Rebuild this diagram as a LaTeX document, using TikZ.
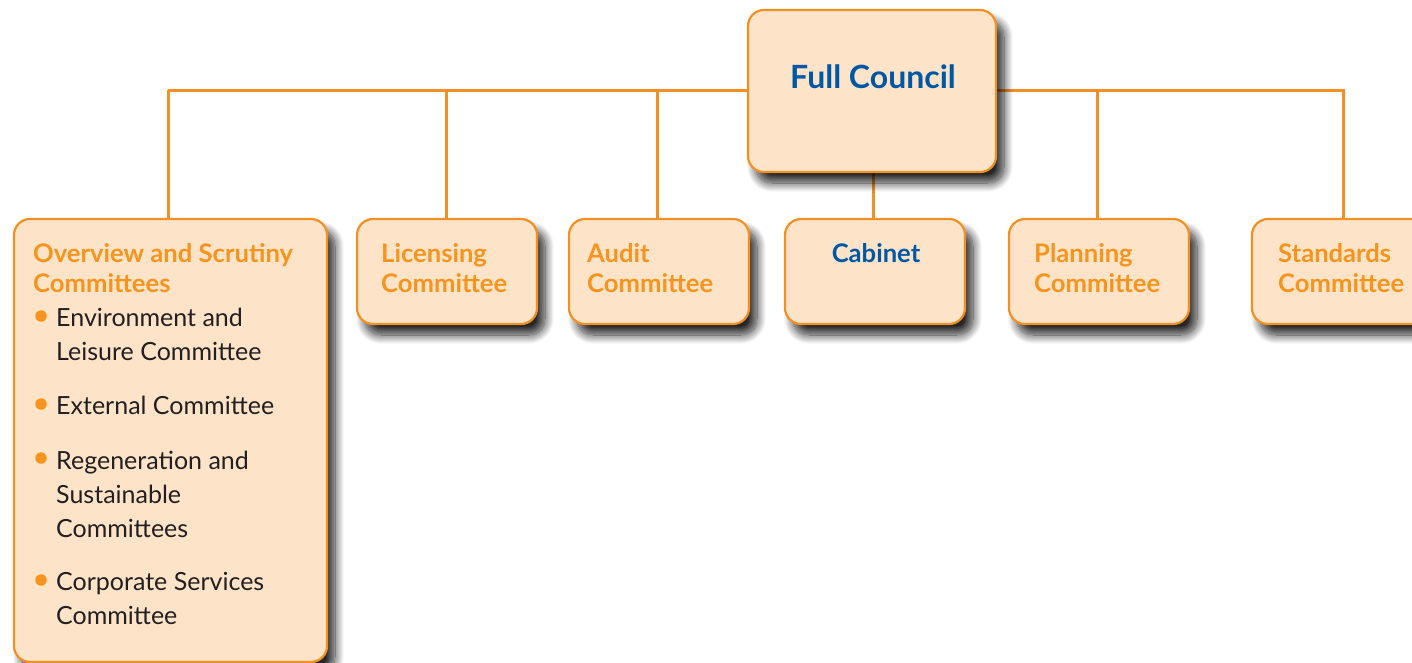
\documentclass[tikz,border=0pt]{standalone}
\usepackage{fontspec}
\setmainfont{Lato}
\usetikzlibrary{shadows.blur}
\pgfdeclarelayer{background}
\pgfsetlayers{background,main}
\definecolor{boxfill}{HTML}{FDE4C9}
\definecolor{boxedge}{HTML}{F29024}
\definecolor{headorange}{HTML}{F7941D}
\definecolor{councilblue}{HTML}{0057A6}
\definecolor{bodytext}{HTML}{231F20}
\tikzset{
  orgbox/.style={draw=boxedge, line width=2.2pt, fill=boxfill, rounded corners=16pt,
    blur shadow={shadow xshift=8pt, shadow yshift=-11pt, shadow blur steps=14, shadow blur radius=9pt, shadow opacity=85}},
  link/.style={draw=boxedge, line width=3pt},
  headtext/.style={font=\bfseries\fontsize{25.6}{30}\selectfont, text=headorange, inner sep=0pt, anchor=base west, align=left},
  bluetext/.style={font=\bfseries\fontsize{25.6}{30}\selectfont, text=councilblue, inner sep=0pt, anchor=base},
  itemtext/.style={font=\fontsize{25}{34}\selectfont, text=bodytext, inner sep=0pt, anchor=base west, align=left},
  dot/.style={circle, fill=headorange, inner sep=0pt, minimum size=11.5pt}
}
\begin{document}
\begin{tikzpicture}[x=1pt, y=-1pt]
\useasboundingbox (0,0) rectangle (1412,662);

% boxes
\node[orgbox, minimum width=248pt, minimum height=162pt] (council) at (872,91) {};
\node[orgbox, minimum width=313pt, minimum height=443pt] (overview) at (170.5,440.5) {};
\node[orgbox, minimum width=180pt, minimum height=105pt] (licensing) at (447,271.5) {};
\node[orgbox, minimum width=180pt, minimum height=105pt] (audit) at (659,271.5) {};
\node[orgbox, minimum width=180pt, minimum height=105pt] (cabinet) at (875,271.5) {};
\node[orgbox, minimum width=180pt, minimum height=105pt] (planning) at (1099,271.5) {};
\node[orgbox, minimum width=180pt, minimum height=105pt] (standards) at (1342,271.5) {};

% taps on the boxes where the connectors join them
\coordinate (tapO) at ([xshift=-2.5pt]overview.north);
\coordinate (tapL) at ([xshift=-1pt]licensing.north);
\coordinate (tapA) at ([xshift=-2pt]audit.north);
\coordinate (tapC) at ([xshift=-2pt]cabinet.north);
\coordinate (tapP) at ([xshift=-2pt]planning.north);
\coordinate (tapS) at ([xshift=1pt]standards.north);
\coordinate (bus) at (0,90);

% connectors, kept behind the boxes and their shadows
\begin{pgfonlayer}{background}
\path[link] (tapO |- bus) -- (tapO);
\path[link] (tapO |- bus) -- (tapS |- bus) -- (tapS);
\path[link] (tapL |- bus) -- (tapL);
\path[link] (tapA |- bus) -- (tapA);
\path[link] (tapP |- bus) -- (tapP);
\path[link] (tapC |- council.south) -- (tapC);
\end{pgfonlayer}

% texts (a multi-line node sits on the baseline of its last line)
\node[bluetext, font=\bfseries\fontsize{32}{36}\selectfont] (councilname) at (873,88) {Full Council};
\node[bluetext] (cabinetname) at (876,262) {Cabinet};
\node[headtext] (licensingname) at (381,292) {Licensing\\Committee};
\node[headtext] (auditname) at (587,292) {Audit\\Committee};
\node[headtext] (planningname) at (1034,292) {Planning\\Committee};
\node[headtext] (standardsname) at (1278,292) {Standards\\Committee};
\node[headtext] (overviewname) at (33,292) {Overview and Scrutiny\\Committees};

\node[itemtext] (item1) at (56,360) {Environment and\\Leisure Committee};
\node[itemtext] (item2) at (56,414) {External Committee};
\node[itemtext] (item3) at (56,537) {Regeneration and\\Sustainable\\Committees};
\node[itemtext] (item4) at (56,624) {Corporate Services\\Committee};
\node[dot] (dot1) at (41,316) {};
\node[dot] (dot2) at (41,404) {};
\node[dot] (dot3) at (41,458) {};
\node[dot] (dot4) at (41,580) {};
\end{tikzpicture}
\end{document}
